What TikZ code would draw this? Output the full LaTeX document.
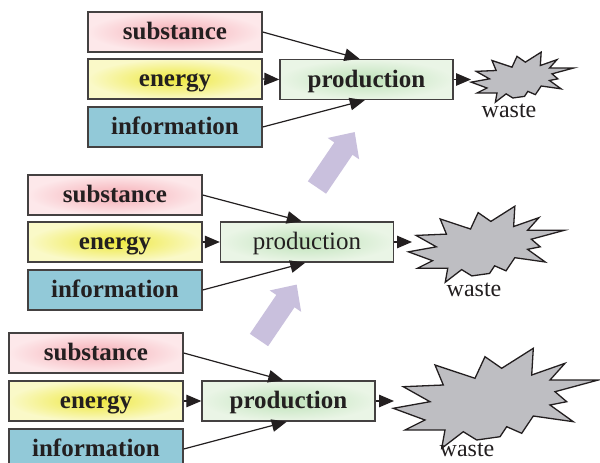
\documentclass[tikz,border=0pt]{standalone}
\usepackage{fontspec}
\setmainfont{Liberation Serif}
\usetikzlibrary{arrows.meta,calc}
\definecolor{pinkin}{RGB}{245,172,180}
\definecolor{pinkout}{RGB}{253,232,234}
\definecolor{yelin}{RGB}{238,232,60}
\definecolor{yelout}{RGB}{250,249,200}
\definecolor{infoblue}{RGB}{146,201,216}
\definecolor{grnin}{RGB}{190,226,185}
\definecolor{grnout}{RGB}{234,245,230}
\definecolor{wastegray}{RGB}{190,190,194}
\definecolor{lav}{RGB}{201,192,221}
\definecolor{ink}{RGB}{35,31,32}
\tikzset{
  box/.style={draw=ink!85, line width=1.4pt, minimum width=174pt, minimum height=40pt,
    inner sep=0pt, text height=15pt, text depth=0pt,
    font=\fontsize{25}{30}\selectfont\bfseries, text=ink},
  subbox/.style={box, shading=radial, inner color=pinkin, outer color=pinkout},
  enbox/.style={box, shading=radial, inner color=yelin, outer color=yelout},
  infobox/.style={box, fill=infoblue},
  prodbox/.style={box, minimum width=173pt, shading=radial, inner color=grnin, outer color=grnout},
  prodreg/.style={prodbox, font=\fontsize{25}{30}\selectfont},
  flow/.style={draw=ink, line width=1.2pt, -{Triangle[length=15pt,width=12.5pt]}},
  wastelbl/.style={font=\fontsize{24}{28}\selectfont, text=ink, inner sep=0pt},
  burststyle/.style={draw=ink, fill=wastegray, line width=1.3pt, line join=miter},
  pics/burst/.style={code={
    \draw[burststyle] (-102.7,10.3) -- (-66,3.7) -- (-92.7,-11.3) -- (-52.7,-13) -- (-61,-33)
      -- (-21,-19.7) -- (-11,-41.3) -- (5.7,-29.7) -- (37.3,-49.7) -- (35.7,-23) -- (69,-34.7)
      -- (54,-18) -- (102.3,-18) -- (59,-6.3) -- (70.7,3.7) -- (54,7) -- (77.3,23.7) -- (37.3,18)
      -- (25.7,35.3) -- (10.7,28.7) -- (4,38.7) -- (-19.3,42) -- (-32.7,33.7) -- (-54.3,50.3)
      -- (-51,32) -- (-91,32) -- (-71,22) -- cycle;}},
  pics/bigarrow/.style={code={
    \fill[lav] (0,-11) -- (47,-11) -- (47,-19) -- (67,0) -- (47,19) -- (47,11) -- (0,11) -- cycle;}}
}
\begin{document}
\begin{tikzpicture}[x=1pt,y=-1pt]
\useasboundingbox (0,0) rectangle (600,463);
\clip (0,0) rectangle (600,463);
\fill[white] (0,0) rectangle (600,463);

% purple arrows
\pic[rotate=55.8] at (317,187.5) {bigarrow};
\pic[rotate=55.8] at (259,340) {bigarrow};

% ---------- top group ----------
\node[subbox] (s1) at (175,32) {substance};
\node[enbox] (e1) at (175,79) {energy};
\node[infobox] (i1) at (175,127) {information};
\node[prodbox] (p1) at (366.5,79.5) {production};
\pic[scale=0.5] at (522.5,77) {burst};
\coordinate (w1) at (471,79.5);
\node[wastelbl] (l1) at (509,111) {waste};
\draw[flow] (s1.east) -- ($(p1.north west)!0.46!(p1.north east)$);
\draw[flow] (e1.east) -- (p1.west);
\draw[flow] (i1.east) -- ($(p1.south west)!0.49!(p1.south east)$);
\draw[flow] (p1.east) -- (w1);

% ---------- middle group ----------
\node[subbox] (s2) at (115,195) {substance};
\node[enbox] (e2) at (115,242) {energy};
\node[infobox] (i2) at (115,290) {information};
\node[prodreg] (p2) at (307,242) {production};
\pic[scale=0.76] at (486.5,244) {burst};
\coordinate (w2) at (412,242);
\node[wastelbl] (l2) at (474,290) {waste};
\draw[flow] (s2.east) -- ($(p2.north west)!0.47!(p2.north east)$);
\draw[flow] (e2.east) -- (p2.west);
\draw[flow] (i2.east) -- ($(p2.south west)!0.49!(p2.south east)$);
\draw[flow] (p2.east) -- (w2);

% ---------- bottom group ----------
\node[subbox] (s3) at (96,353) {substance};
\node[enbox] (e3) at (96,401) {energy};
\node[infobox] (i3) at (96,449) {information};
\node[prodbox] (p3) at (288.5,401) {production};
\pic at (496,398) {burst};
\coordinate (w3) at (394,401);
\node[wastelbl] (l3) at (467,450) {waste};
\draw[flow] (s3.east) -- ($(p3.north west)!0.47!(p3.north east)$);
\draw[flow] (e3.east) -- (p3.west);
\draw[flow] (i3.east) -- ($(p3.south west)!0.49!(p3.south east)$);
\draw[flow] (p3.east) -- (w3);
\end{tikzpicture}
\end{document}
